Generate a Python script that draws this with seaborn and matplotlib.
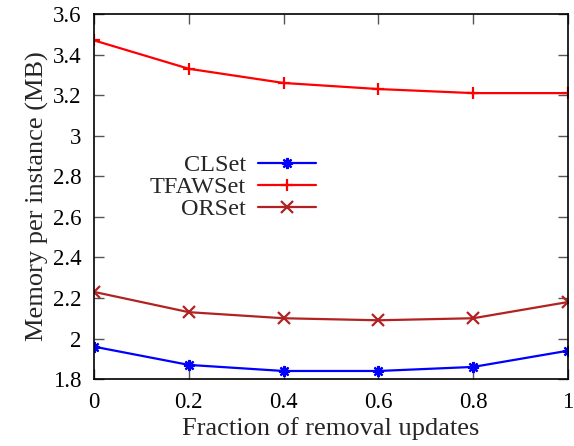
import matplotlib
matplotlib.use("Agg")
import matplotlib.pyplot as plt
import seaborn as sns
import pandas as pd
from matplotlib.ticker import FuncFormatter

fractions = [0, 0.2, 0.4, 0.6, 0.8, 1.0]
clset = [1.96, 1.87, 1.84, 1.84, 1.86, 1.94]
tfawset = [3.47, 3.33, 3.26, 3.23, 3.21, 3.21]
orset = [2.23, 2.13, 2.10, 2.09, 2.10, 2.18]
series_names = ["CLSet", "TFAWSet", "ORSet"]
colors = ["#0000ff", "#ff0000", "#b22222"]
markers = [(8, 2, 0), "+", "x"]
yticks = [1.8, 2.0, 2.2, 2.4, 2.6, 2.8, 3.0, 3.2, 3.4, 3.6]
xticks = [0, 0.2, 0.4, 0.6, 0.8, 1.0]

sns.set_style("ticks")
plt.rcParams["font.family"] = ["Liberation Serif", "DejaVu Serif"]

fig = plt.figure(figsize=(5.74, 4.46), dpi=100)
ax = fig.add_axes([0.1638, 0.150, 0.9895 - 0.1638, 0.9686 - 0.150])

for name, vals, c, m in zip(series_names, [clset, tfawset, orset], colors, markers):
    df = pd.DataFrame({"x": fractions, "y": vals})
    sns.lineplot(data=df, x="x", y="y", ax=ax, color=c, marker=m, markersize=8,
                 markeredgewidth=1.6, markeredgecolor=c, linewidth=1.6, label=name)

ax.set_xlim(0, 1)
ax.set_ylim(1.8, 3.6)
ax.set_xticks(xticks)
ax.set_yticks(yticks)
fmt = FuncFormatter(lambda v, p: "%g" % round(v, 2))
ax.xaxis.set_major_formatter(fmt)
ax.yaxis.set_major_formatter(fmt)
ax.tick_params(direction="in", length=7, width=1, top=True, right=True,
               labelsize=16.5, colors="#555555", labelcolor="black", pad=9)
for s in ax.spines.values():
    s.set_linewidth(1.2)
    s.set_color("black")
ax.set_xlabel("Fraction of removal updates", fontsize=19, labelpad=3)
ax.set_ylabel("Memory per instance (MB)", fontsize=19, labelpad=3)

leg = ax.legend(loc="center", bbox_to_anchor=(0.293, 0.526), frameon=False,
                markerfirst=False, fontsize=17.5, handlelength=2.4,
                labelspacing=0.0, handletextpad=0.5, borderpad=0)
for t in leg.get_texts():
    t.set_ha("right")
leg._legend_box.align = "right"

fig.savefig("out.png", dpi=100)
